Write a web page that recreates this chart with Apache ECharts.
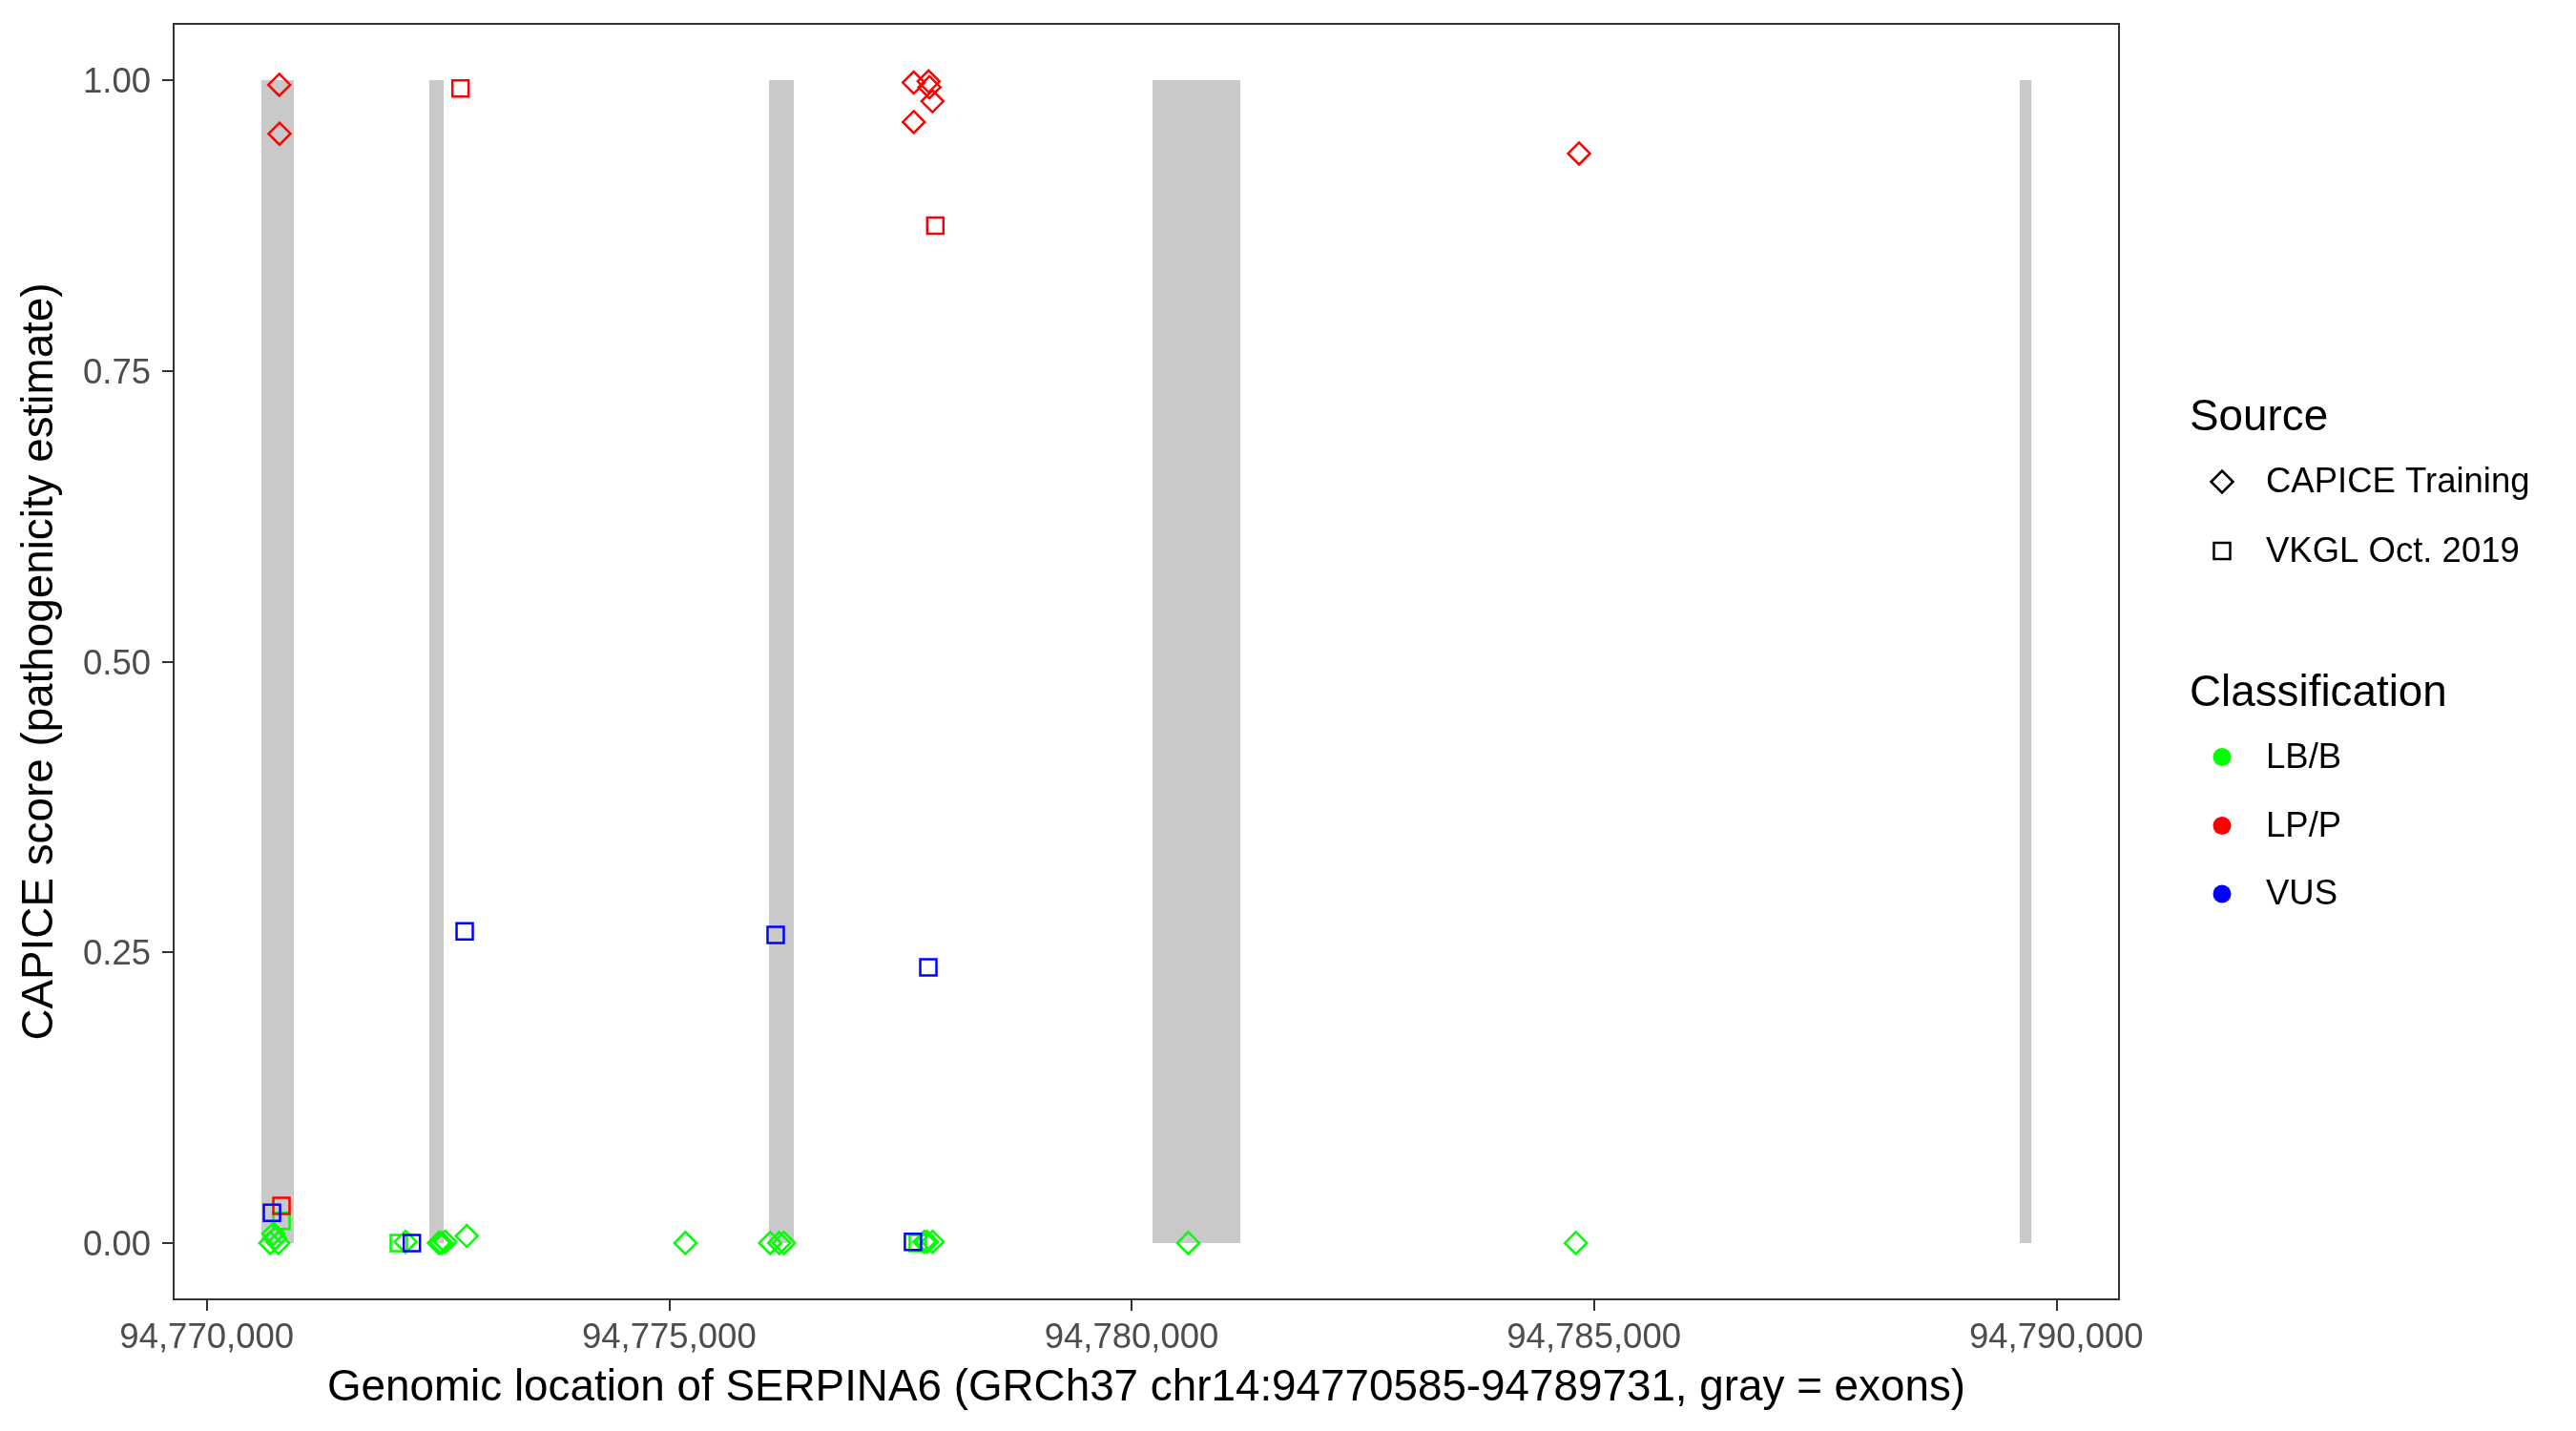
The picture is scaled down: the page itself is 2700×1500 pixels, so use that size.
<!DOCTYPE html>
<html>
<head>
<meta charset="utf-8">
<script src="https://cdn.jsdelivr.net/npm/echarts@6/dist/echarts.min.js"></script>
<style>html,body{margin:0;padding:0;background:#fff}#c{width:2700px;height:1500px}</style>
</head>
<body>
<div id="c"></div>
<script>
// ---- data ----
const xTicks = [94770000, 94775000, 94780000, 94785000, 94790000];
const yTicks = [0, 0.25, 0.5, 0.75, 1.0];
const exonStart = [94770591, 94772407, 94776080, 94780227, 94789605];
const exonEnd   = [94770942, 94772562, 94776348, 94781176, 94789731];

// CAPICE Training (diamonds)
const capiceLPPos   = [94770784, 94770787, 94777645, 94777806, 94777815, 94777847, 94777645, 94784839];
const capiceLPScore = [0.996, 0.954, 0.998, 0.999, 0.994, 0.982, 0.964, 0.937];
const capiceLBPos   = [94770687, 94770722, 94770774, 94770739, 94772149, 94772510, 94772538, 94772579, 94772812, 94775176, 94776092, 94776190, 94776242, 94777760, 94777789, 94777849, 94780613, 94784805];
const capiceLBScore = [0.000, 0.008, 0.000, 0.004, 0.001, 0.000, 0.000, 0.001, 0.006, 0.000, 0.000, 0.000, 0.000, 0.001, 0.001, 0.001, 0.000, 0.000];

// VKGL Oct. 2019 (squares)
const vkglLPPos   = [94772744, 94777878, 94770808];
const vkglLPScore = [0.993, 0.875, 0.032];
const vkglVUSPos   = [94770705, 94772789, 94776152, 94777803, 94772218, 94777637];
const vkglVUSScore = [0.026, 0.268, 0.265, 0.237, 0.000, 0.001];
const vkglLBPos   = [94770808, 94772077, 94777689];
const vkglLBScore = [0.019, 0.000, 0.000];

const sourceNames = ['CAPICE Training', 'VKGL Oct. 2019'];
const classNames = ['LB/B', 'LP/P', 'VUS'];
const classColors = {'LB/B': '#00FF00', 'LP/P': '#FF0000', 'VUS': '#0000FF'};

// ---- chart ----
const FONT = "'Liberation Sans', Arial, Helvetica, sans-serif";
const TITLE_FS = 45.8, TEXT_FS = 36.5;
const chart = echarts.init(document.getElementById('c'), null, {renderer: 'canvas'});
const pairs = (xs, ys) => xs.map((x, i) => [x, ys[i]]);
const fmt = v => v.toString().replace(/\B(?=(\d{3})+(?!\d))/g, ',');

function pointSeries(name, xs, ys, symbol, size, color) {
  return {
    name: name, type: 'scatter', data: pairs(xs, ys), symbol: symbol, symbolSize: size,
    itemStyle: {color: 'rgba(0,0,0,0)', borderColor: color, borderWidth: 2.5, opacity: 1},
    z: 5, silent: true
  };
}

const DIA = 23, SQ = 17;
const legendX = 2329, legendTextX = 2375;
const graphics = [];
graphics.push({type: 'text', x: 2295, y: 438, style: {text: 'Source', font: `${TITLE_FS}px ${FONT}`, fill: '#000', verticalAlign: 'middle'}});
const srcY = [505, 577.5];
sourceNames.forEach((n, i) => {
  if (i === 0) {
    graphics.push({type: 'polygon', shape: {points: [[legendX, srcY[i] - DIA/2], [legendX + DIA/2, srcY[i]], [legendX, srcY[i] + DIA/2], [legendX - DIA/2, srcY[i]]]}, style: {fill: 'none', stroke: '#000', lineWidth: 2.5}});
  } else {
    graphics.push({type: 'rect', shape: {x: legendX - SQ/2, y: srcY[i] - SQ/2, width: SQ, height: SQ}, style: {fill: 'none', stroke: '#000', lineWidth: 2.5}});
  }
  graphics.push({type: 'text', x: legendTextX, y: srcY[i] + 1, style: {text: n, font: `${TEXT_FS}px ${FONT}`, fill: '#000', verticalAlign: 'middle'}});
});
graphics.push({type: 'text', x: 2295, y: 727, style: {text: 'Classification', font: `${TITLE_FS}px ${FONT}`, fill: '#000', verticalAlign: 'middle'}});
const clsY = [793.5, 865.5, 937];
classNames.forEach((n, i) => {
  graphics.push({type: 'circle', shape: {cx: legendX, cy: clsY[i], r: 9.5}, style: {fill: classColors[n]}});
  graphics.push({type: 'text', x: legendTextX, y: clsY[i] + 1, style: {text: n, font: `${TEXT_FS}px ${FONT}`, fill: '#000', verticalAlign: 'middle'}});
});

const option = {
  animation: false,
  backgroundColor: '#fff',
  textStyle: {fontFamily: FONT},
  grid: {left: 182, top: 25, width: 2039, height: 1337, show: true, borderColor: '#333333', borderWidth: 2, backgroundColor: '#fff', containLabel: false},
  xAxis: {
    type: 'value', min: 94769642, max: 94790678,
    name: 'Genomic location of SERPINA6 (GRCh37 chr14:94770585-94789731, gray = exons)',
    nameLocation: 'middle', nameGap: 70,
    nameTextStyle: {fontSize: TITLE_FS, color: '#000', fontFamily: FONT},
    axisLine: {show: true, onZero: false, lineStyle: {color: '#333333', width: 2}},
    axisTick: {show: true, length: 12, lineStyle: {color: '#333333', width: 2}, customValues: xTicks},
    axisLabel: {fontSize: TEXT_FS, color: '#4D4D4D', margin: 22, fontFamily: FONT, customValues: xTicks, formatter: v => fmt(v)},
    splitLine: {show: false}
  },
  yAxis: {
    type: 'value', min: -0.0485, max: 1.0485,
    name: 'CAPICE score (pathogenicity estimate)',
    nameLocation: 'middle', nameGap: 117, nameRotate: 90,
    nameTextStyle: {fontSize: TITLE_FS, color: '#000', fontFamily: FONT},
    axisLine: {show: true, onZero: false, lineStyle: {color: '#333333', width: 2}},
    axisTick: {show: true, length: 12, lineStyle: {color: '#333333', width: 2}, customValues: yTicks},
    axisLabel: {
      fontSize: TEXT_FS, color: '#4D4D4D', margin: 24, fontFamily: FONT, customValues: yTicks,
      formatter: v => '{t|' + v.toFixed(2) + '}',
      rich: {t: {fontSize: TEXT_FS, color: '#4D4D4D', fontFamily: FONT, padding: [6, 0, 0, 0]}}
    },
    splitLine: {show: false}
  },
  graphic: graphics,
  series: [
    {
      type: 'custom', name: 'exons', silent: true, z: 1,
      data: exonStart.map((s, i) => [s, exonEnd[i], 0, 1]),
      encode: {x: [0, 1], y: [2, 3]},
      renderItem: function (params, api) {
        const a = api.coord([api.value(0), api.value(3)]);
        const b = api.coord([api.value(1), api.value(2)]);
        return {type: 'rect', shape: {x: a[0], y: a[1], width: b[0] - a[0], height: b[1] - a[1]}, style: {fill: '#C9C9C9'}};
      }
    },
    pointSeries('CAPICE Training LB/B', capiceLBPos, capiceLBScore, 'diamond', DIA, classColors['LB/B']),
    pointSeries('VKGL Oct. 2019 LB/B', vkglLBPos, vkglLBScore, 'rect', SQ, classColors['LB/B']),
    pointSeries('CAPICE Training LP/P', capiceLPPos, capiceLPScore, 'diamond', DIA, classColors['LP/P']),
    pointSeries('VKGL Oct. 2019 LP/P', vkglLPPos, vkglLPScore, 'rect', SQ, classColors['LP/P']),
    pointSeries('VKGL Oct. 2019 VUS', vkglVUSPos, vkglVUSScore, 'rect', SQ, classColors['VUS'])
  ]
};
chart.setOption(option);
</script>
</body>
</html>
